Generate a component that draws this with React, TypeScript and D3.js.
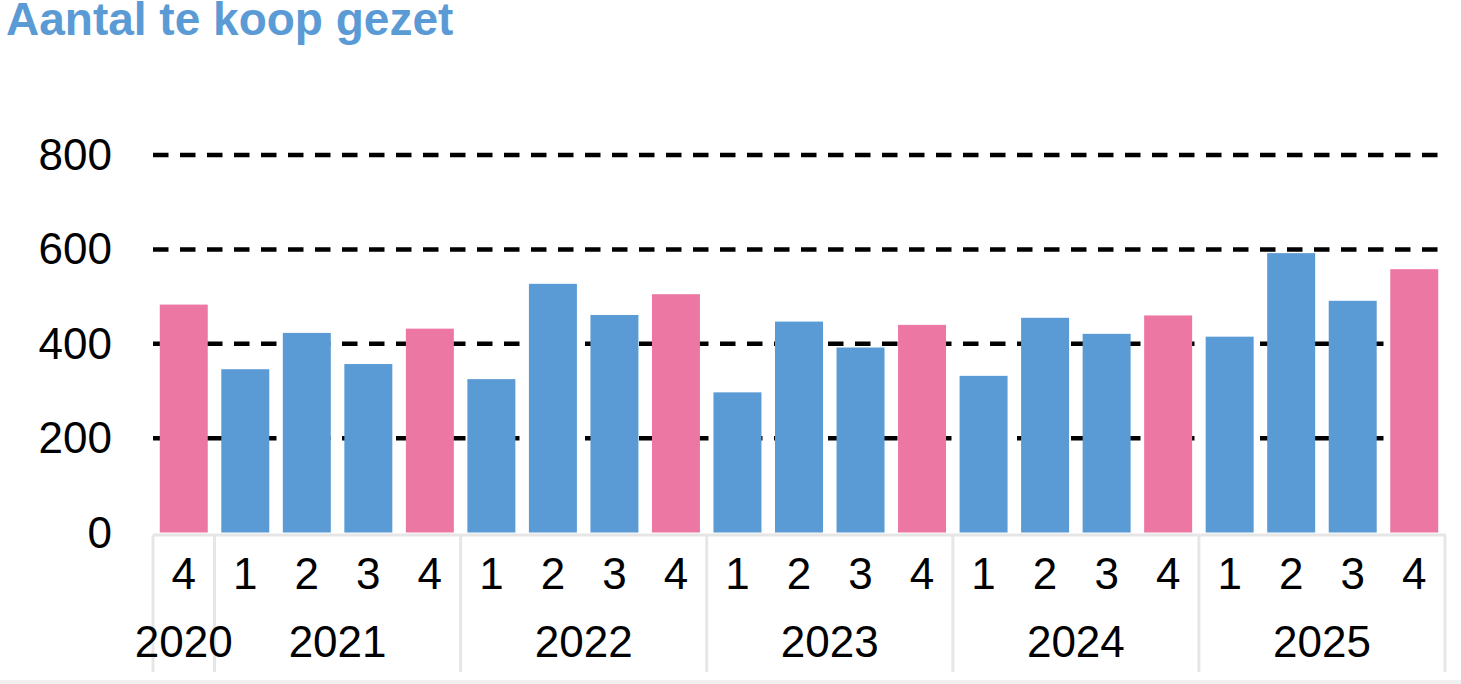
import React from "react";
import * as d3 from "d3";

const quarters = ["4", "1", "2", "3", "4", "1", "2", "3", "4", "1", "2", "3", "4", "1", "2", "3", "4", "1", "2", "3", "4"];
const years = ["2020", "2021", "2021", "2021", "2021", "2022", "2022", "2022", "2022", "2023", "2023", "2023", "2023", "2024", "2024", "2024", "2024", "2025", "2025", "2025", "2025"];
const values = [483, 346, 423, 357, 432, 325, 527, 461, 505, 297, 447, 392, 440, 332, 455, 421, 460, 415, 592, 491, 558];
const yTicks = [0, 200, 400, 600, 800];
const yearLabels = ["2020", "2021", "2022", "2023", "2024", "2025"];

const W = 1461;
const H = 684;
const BLUE = "#5B9BD5";
const PINK = "#ED77A3";
const GRID_GREY = "#E6E6E6";
const FONT = "'Liberation Sans', Arial, sans-serif";

export default function App() {
  const keys = values.map((_, i) => `${years[i]}-${quarters[i]}-${i}`);
  const x = d3.scaleBand<string>().domain(keys).range([153, 1445]).paddingInner(0.22).paddingOuter(0.11);
  const y = d3.scaleLinear().domain([0, 800]).range([532.5, 155]);
  const step = x.step();
  const x0 = 153;

  const groups = yearLabels.map((yr) => {
    const idx = years.map((v, i) => (v === yr ? i : -1)).filter((i) => i >= 0);
    return { yr, start: idx[0], end: idx[idx.length - 1] };
  });

  return (
    <svg
      width={W}
      height={H}
      style={{ position: "absolute", left: 0, top: 0, display: "block", background: "#fff" }}
    >
      <text x={6} y={35} fill={BLUE} fontFamily={FONT} fontWeight="bold" fontSize={46}>
        Aantal te koop gezet
      </text>

      {yTicks.map((t) => (
        <g key={t}>
          {t > 0 && (
            <line
              x1={x0}
              x2={1441}
              y1={y(t)}
              y2={y(t)}
              stroke="#000"
              strokeWidth={4.5}
              strokeDasharray="15.5 11.5"
            />
          )}
          <text
            x={112}
            y={y(t) + 15}
            textAnchor="end"
            fontFamily={FONT}
            fontSize={44}
            fill="#000"
          >
            {t}
          </text>
        </g>
      ))}

      {values.map((v, i) => (
        <rect
          key={keys[i]}
          x={x(keys[i])}
          y={y(v)}
          width={x.bandwidth()}
          height={y(0) - y(v)}
          fill={quarters[i] === "4" ? PINK : BLUE}
        />
      ))}

      <line x1={x0} x2={1446} y1={535} y2={535} stroke={GRID_GREY} strokeWidth={3} />
      {[0, ...groups.map((g) => g.end + 1)].map((b, i) => (
        <line
          key={`v${i}`}
          x1={x0 + b * step}
          x2={x0 + b * step}
          y1={535}
          y2={672}
          stroke={GRID_GREY}
          strokeWidth={3}
        />
      ))}
      <line x1={0} x2={W} y1={682} y2={682} stroke="#F0F0F0" strokeWidth={4} />

      {quarters.map((q, i) => (
        <text
          key={`q${i}`}
          x={(x(keys[i]) as number) + x.bandwidth() / 2}
          y={589}
          textAnchor="middle"
          fontFamily={FONT}
          fontSize={44}
          fill="#000"
        >
          {q}
        </text>
      ))}
      {groups.map((g) => (
        <text
          key={g.yr}
          x={x0 + ((g.start + g.end + 1) / 2) * step}
          y={657}
          textAnchor="middle"
          fontFamily={FONT}
          fontSize={44}
          fill="#000"
        >
          {g.yr}
        </text>
      ))}
    </svg>
  );
}
